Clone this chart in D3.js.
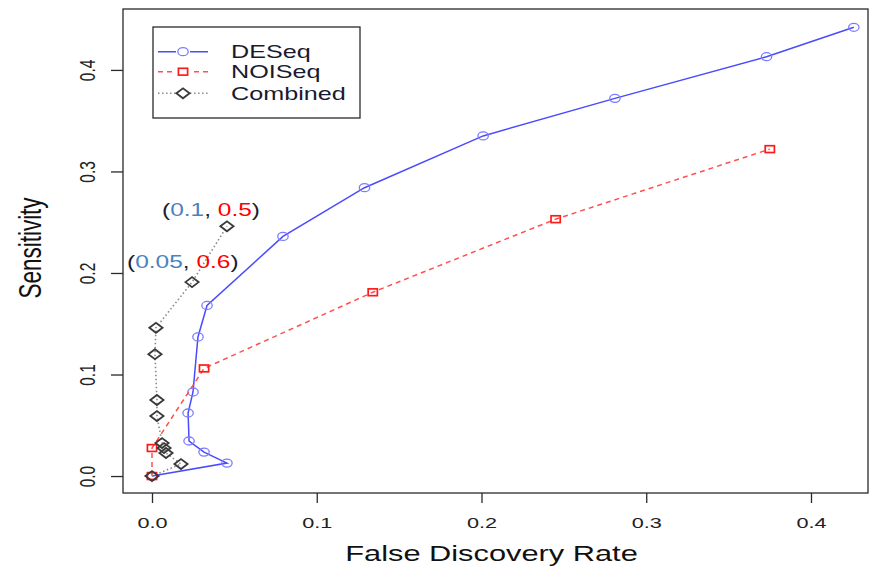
<!DOCTYPE html>
<html>
<head>
<meta charset="utf-8">
<script src="https://cdn.jsdelivr.net/npm/d3@7"></script>
<style>
  html, body { margin: 0; padding: 0; background: #fff; }
  svg { display: block; }
  text { font-family: "Liberation Sans", Arial, sans-serif; }
</style>
</head>
<body>
<svg id="chart" width="872" height="571"></svg>
<script>
// False discovery rate (x) vs sensitivity (y) for each method
const deseqFDR  = [0, 0.0455, 0.0316, 0.0225, 0.0219, 0.0249, 0.0279, 0.0334, 0.0795, 0.129, 0.201, 0.281, 0.373, 0.426];
const deseqSens = [0, 0.0128, 0.0236, 0.0345, 0.0621, 0.0828, 0.137, 0.168, 0.236, 0.284, 0.335, 0.372, 0.413, 0.442];

const noiseqFDR  = [0, 0, 0.0316, 0.134, 0.245, 0.375];
const noiseqSens = [0, 0.0276, 0.106, 0.181, 0.253, 0.322];

const combFDR  = [0, 0.0176, 0.0085, 0.0073, 0.0061, 0.0030, 0.0030, 0.0018, 0.0024, 0.0243, 0.0455];
const combSens = [0, 0.0118, 0.0227, 0.0276, 0.0325, 0.0591, 0.0749, 0.120, 0.146, 0.191, 0.246];

const xTicks = [0, 0.1, 0.2, 0.3, 0.4];
const yTicks = [0, 0.1, 0.2, 0.3, 0.4];
const xTickLabels = ["0.0", "0.1", "0.2", "0.3", "0.4"];
const yTickLabels = ["0.0", "0.1", "0.2", "0.3", "0.4"];

const seriesNames = ["DESeq", "NOISeq", "Combined"];

// threshold annotations: [fdr cutoff, probability cutoff]
const annotations = [["0.1", "0.5"], ["0.05", "0.6"]];

const SX = 1.4; // horizontal stretch of the graphics device

const svg = d3.select("#chart");
const box = { left: 123, right: 868, top: 9, bottom: 493 };

const x = d3.scaleLinear().domain([-0.0176, 0.4346]).range([box.left, box.right]);
const y = d3.scaleLinear().domain([-0.0167, 0.4600]).range([box.bottom, box.top]);

// plot frame
svg.append("rect")
  .attr("x", box.left).attr("y", box.top)
  .attr("width", box.right - box.left).attr("height", box.bottom - box.top)
  .attr("fill", "none").attr("stroke", "#2a2a2a").attr("stroke-width", 1.3);

// x axis
const xAxis = svg.append("g").attr("transform", `translate(0,${box.bottom})`)
  .call(d3.axisBottom(x).tickValues(xTicks).tickSize(10).tickFormat((d, i) => xTickLabels[i]));
xAxis.select(".domain").remove();
xAxis.selectAll("line").attr("stroke", "#2a2a2a").attr("stroke-width", 1.3);
xAxis.selectAll("text").remove();
xAxis.selectAll(".tick").append("text")
  .attr("transform", `translate(0,35) scale(${SX},1)`)
  .attr("text-anchor", "middle")
  .attr("font-size", 15.5).attr("fill", "#222")
  .text((d, i) => xTickLabels[i]);

// y axis
const yAxis = svg.append("g").attr("transform", `translate(${box.left},0)`)
  .call(d3.axisLeft(y).tickValues(yTicks).tickSize(12).tickFormat((d, i) => yTickLabels[i]));
yAxis.select(".domain").remove();
yAxis.selectAll("line").attr("stroke", "#2a2a2a").attr("stroke-width", 1.3);
yAxis.selectAll("text").remove();
yAxis.selectAll(".tick").append("text")
  .attr("transform", `translate(-28,0) scale(${SX},1) rotate(-90)`)
  .attr("text-anchor", "middle")
  .attr("font-size", 15.5).attr("fill", "#222")
  .text((d, i) => yTickLabels[i]);

// axis titles
svg.append("text")
  .attr("transform", `translate(${(box.left + box.right) / 2 - 4},561) scale(${SX},1)`)
  .attr("text-anchor", "middle").attr("font-size", 22).attr("fill", "#111")
  .text("False Discovery Rate");
svg.append("text")
  .attr("transform", `translate(41,${(box.top + box.bottom) / 2 - 3}) scale(${SX},1) rotate(-90)`)
  .attr("text-anchor", "middle").attr("font-size", 22.5).attr("fill", "#111")
  .text("Sensitivity");

// series styles
const styles = {
  DESeq:    { line: "#4a4aff", dash: null,      marker: "circle",  mcol: "#7b7bff", width: 1.5 },
  NOISeq:   { line: "#ff5050", dash: "5,4",     marker: "square",  mcol: "#ff1a1a", width: 1.5 },
  Combined: { line: "#8a8a8a", dash: "1.5,2.5", marker: "diamond", mcol: "#3a3a3a", width: 1.6 }
};

function drawMarker(g, type, cx, cy, col) {
  if (type === "circle") {
    g.append("ellipse").attr("cx", cx).attr("cy", cy).attr("rx", 5.2).attr("ry", 4)
      .attr("fill", "none").attr("stroke", col).attr("stroke-width", 1.3);
  } else if (type === "square") {
    g.append("rect").attr("x", cx - 4.6).attr("y", cy - 3.4).attr("width", 9.2).attr("height", 6.8)
      .attr("fill", "none").attr("stroke", col).attr("stroke-width", 1.7);
  } else {
    const w = 6.6, h = 5;
    g.append("polygon")
      .attr("points", [[cx - w, cy], [cx, cy - h], [cx + w, cy], [cx, cy + h]].map(p => p.join(",")).join(" "))
      .attr("fill", "none").attr("stroke", col).attr("stroke-width", 1.8);
  }
}

const series = [
  { name: "DESeq", xs: deseqFDR, ys: deseqSens },
  { name: "NOISeq", xs: noiseqFDR, ys: noiseqSens },
  { name: "Combined", xs: combFDR, ys: combSens }
];

const line = d3.line().x(d => x(d[0])).y(d => y(d[1]));

series.forEach(s => {
  const st = styles[s.name];
  const pts = s.xs.map((v, i) => [v, s.ys[i]]);
  const g = svg.append("g");
  g.append("path").datum(pts).attr("d", line)
    .attr("fill", "none").attr("stroke", st.line).attr("stroke-width", st.width)
    .attr("stroke-dasharray", st.dash);
  pts.forEach(p => drawMarker(g, st.marker, x(p[0]), y(p[1]), st.mcol));
});

// legend
const lg = svg.append("g");
lg.append("rect").attr("x", 153).attr("y", 27).attr("width", 207).attr("height", 91)
  .attr("fill", "#fff").attr("stroke", "#2a2a2a").attr("stroke-width", 1.3);
const legendRows = [51.7, 71.7, 93.3];
seriesNames.forEach((name, i) => {
  const st = styles[name];
  const ly = legendRows[i];
  lg.append("line").attr("x1", 158).attr("x2", 208).attr("y1", ly).attr("y2", ly)
    .attr("stroke", st.line).attr("stroke-width", st.width).attr("stroke-dasharray", st.dash);
  lg.append("rect").attr("x", 176).attr("y", ly - 6).attr("width", 14).attr("height", 12).attr("fill", "#fff");
  drawMarker(lg, st.marker, 183, ly, st.mcol);
  lg.append("text")
    .attr("transform", `translate(231,${ly + 6.5}) scale(${SX},1)`)
    .attr("font-size", 18).attr("fill", "#1a1a2e")
    .text(name);
});

// threshold annotations next to the combined curve
const annPos = [[162, 216], [127, 268]];
annotations.forEach((a, i) => {
  const t = svg.append("text")
    .attr("transform", `translate(${annPos[i][0]},${annPos[i][1]}) scale(${SX},1)`)
    .attr("font-family", "'Open Sans', 'Noto Sans', sans-serif")
    .attr("font-size", 17.5);
  t.append("tspan").attr("fill", "#1c1c30").text("(");
  t.append("tspan").attr("fill", "#4a82c0").text(a[0]);
  t.append("tspan").attr("fill", "#1c1c30").text(", ");
  t.append("tspan").attr("fill", "#ff0000").text(a[1]);
  t.append("tspan").attr("fill", "#1c1c30").text(")");
});
</script>
</body>
</html>
